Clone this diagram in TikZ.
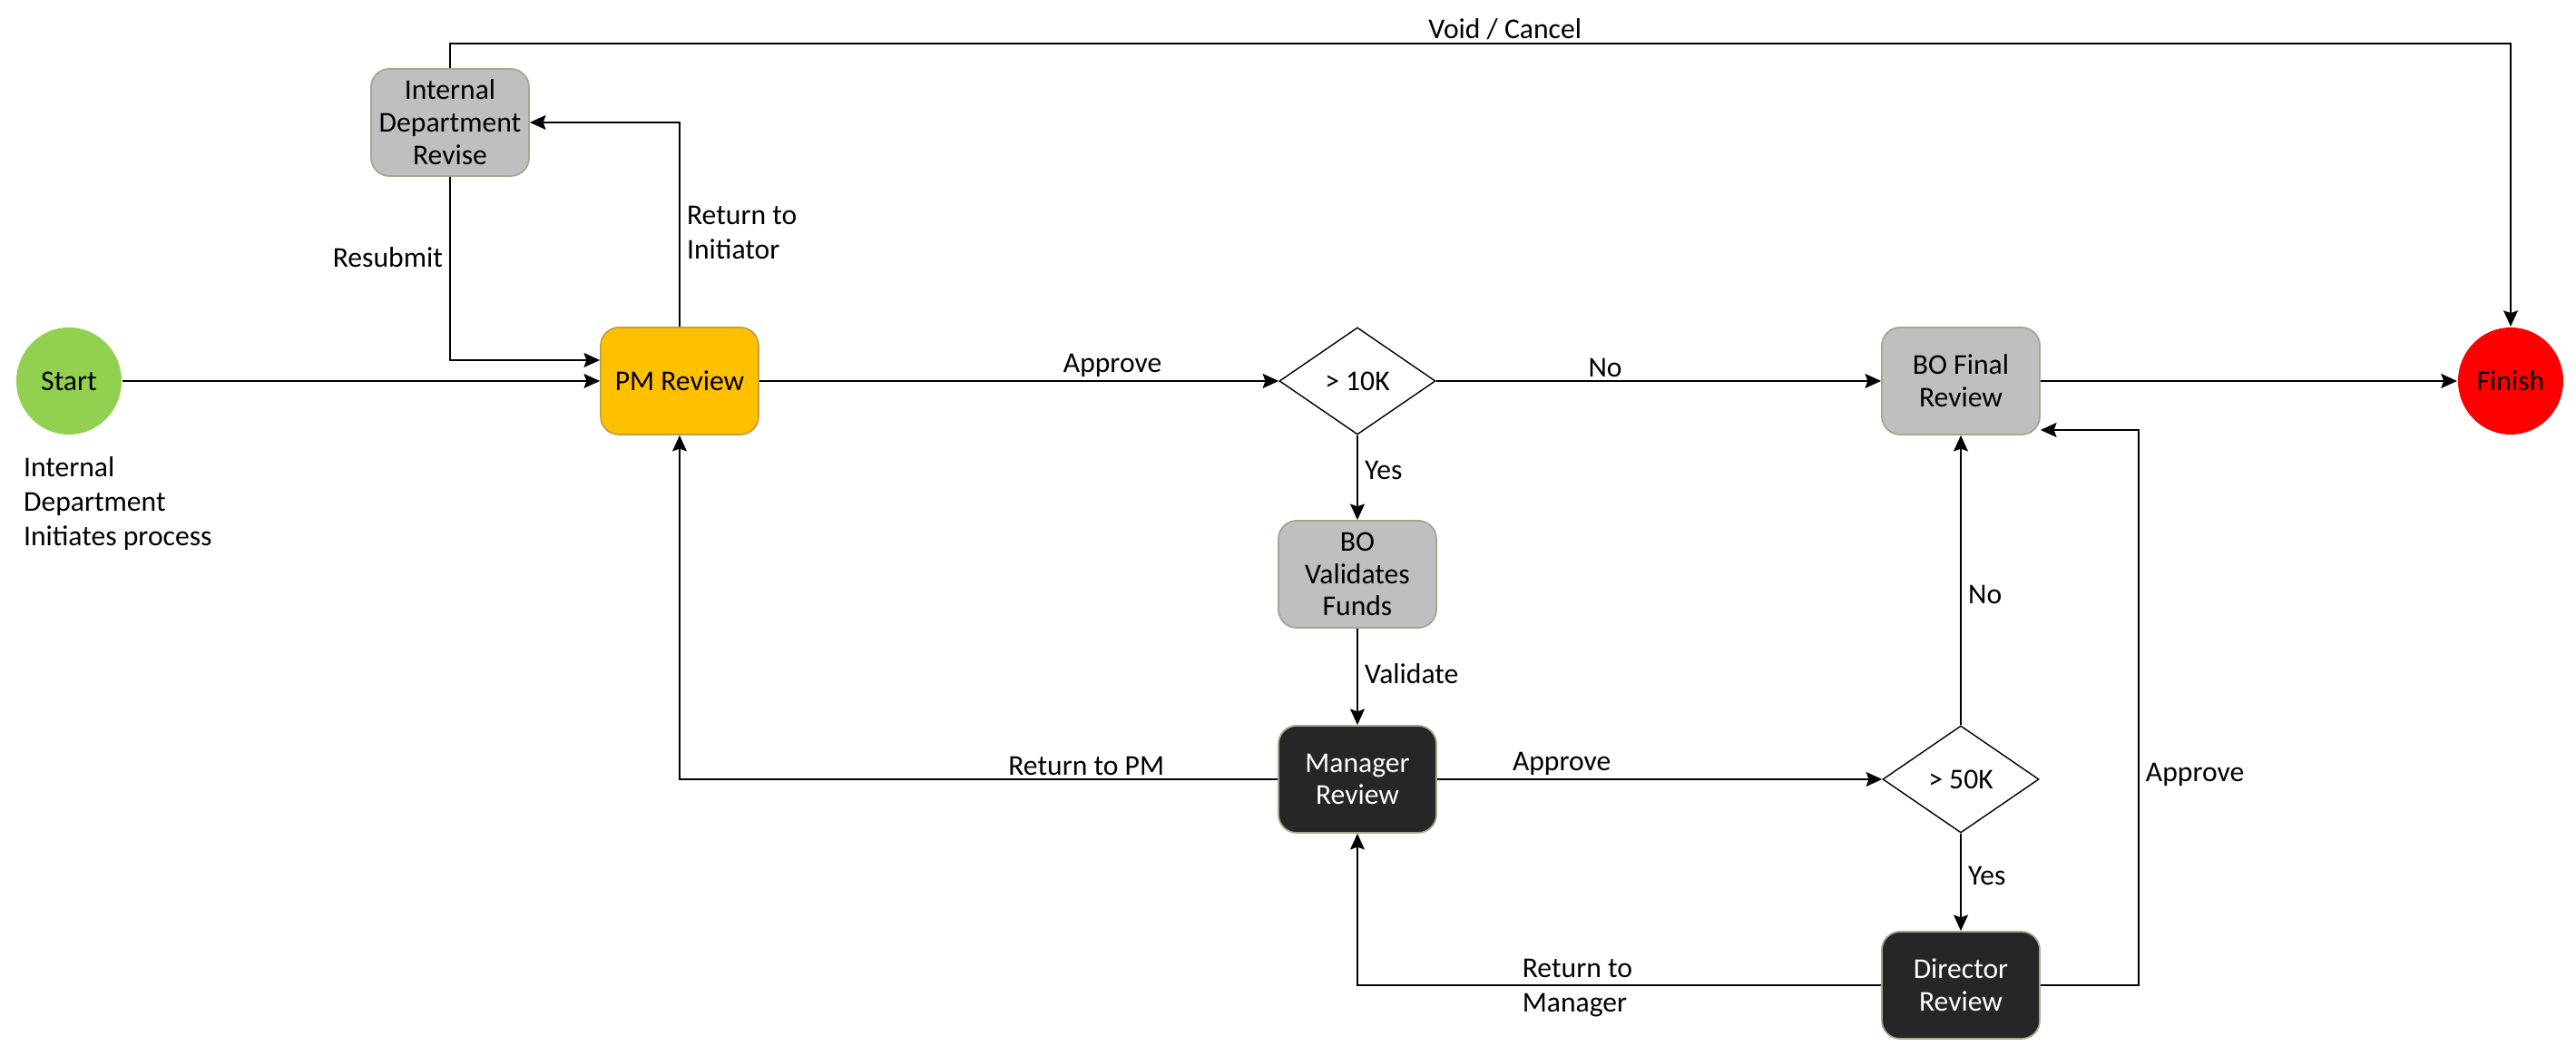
\documentclass[tikz,border=0pt]{standalone}
\usepackage{fontspec}
\setmainfont{Carlito}
\usetikzlibrary{shapes.geometric,arrows.meta}

\definecolor{startgreen}{HTML}{92D050}
\definecolor{finishred}{HTML}{FF0000}
\definecolor{pmorange}{HTML}{FFC000}
\definecolor{boxgray}{HTML}{BFBFBF}
\definecolor{boxdark}{HTML}{262626}
\definecolor{rimolive}{HTML}{A6A68C}
\definecolor{rimorange}{HTML}{BFA040}

\tikzset{
  txt/.style={font=\fontsize{9}{10.8}\selectfont},
  proc/.style={font=\fontsize{9}{10.2}\selectfont, rectangle, rounded corners=0.2cm,
    draw=rimolive, line width=0.5pt, minimum width=1.74cm, minimum height=1.18cm,
    align=center, inner sep=1pt},
  graybox/.style={proc, fill=boxgray},
  darkbox/.style={proc, fill=boxdark, text=white},
  decide/.style={txt, diamond, draw=black, line width=0.4pt, fill=white,
    minimum width=1.72cm, minimum height=1.18cm, inner sep=1pt},
  term/.style={txt, ellipse, inner sep=0pt, minimum width=1.16cm, minimum height=1.18cm},
  lbl/.style={txt, inner sep=2pt, align=left},
  >={Stealth[length=5pt,width=4.5pt,inset=0.8pt]}
}

\begin{document}
\begin{tikzpicture}[line width=0.6pt]

  \useasboundingbox (0,0) rectangle (28.39,11.53);

  \node [term, fill=startgreen] (start) at (0.76,7.33) {Start};
  \node [lbl, anchor=west, inner sep=0pt] (note) at (0.25,5.98) {Internal\\Department\\Initiates process};

  \node [proc, fill=pmorange, draw=rimorange] (pm) at (7.49,7.33) {PM Review};
  \node [graybox] (rev) at (4.96,10.18) {Internal\\Department\\Revise};

  \node [decide] (d10) at (14.96,7.33) {> 10K};
  \node [graybox] (bov) at (14.96,5.20) {BO\\Validates\\Funds};
  \node [darkbox] (mgr) at (14.96,2.94) {Manager\\Review};

  \node [graybox] (bofin) at (21.61,7.33) {BO Final\\Review};
  \node [decide] (d50) at (21.61,2.94) {> 50K};
  \node [darkbox] (dir) at (21.61,0.67) {Director\\Review};

  \node [term, fill=finishred] (fin) at (27.67,7.33) {Finish};

  \coordinate (pmin) at ([yshift=0.23cm]pm.west);
  \coordinate (finin) at ([yshift=-0.54cm]bofin.east);

  \draw [->] (start) -- (pm);
  \draw [->] (rev.south) |- node [lbl, pos=0.22, left] {Resubmit} (pmin);
  \draw [->] (pm.north) |- node [lbl, pos=0.23, right] {Return to\\Initiator} (rev.east);
  \draw [->] (pm) -- node [lbl, pos=0.68, above, inner sep=1pt] {Approve} (d10);
  \draw [->] (d10) -- node [lbl, pos=0.38, above, inner sep=1pt] {No} (bofin);
  \draw [->] (d10) -- node [lbl, pos=0.42, right] {Yes} (bov);
  \draw [->] (bov) -- node [lbl, pos=0.47, right] {Validate} (mgr);
  \draw [->] (mgr.west) -| node [lbl, pos=0.16, above, inner sep=1pt] {Return to PM} (pm.south);
  \draw [->] (mgr) -- node [lbl, pos=0.28, above, inner sep=1pt] {Approve} (d50);
  \draw [->] (d50) -- node [lbl, pos=0.45, right] {No} (bofin);
  \draw [->] (d50) -- node [lbl, pos=0.44, right] {Yes} (dir);
  \draw [->] (dir.west) -| node [lbl, pos=0.29, yshift=-1pt] {Return to\\Manager} (mgr.south);
  \draw [->] (dir.east) -- ++(1.08,0) |- node [lbl, pos=0.19, right] {Approve} (finin);
  \draw [->] (bofin) -- (fin);
  \draw [->] (rev.north) -- ++(0,0.27) -| node [lbl, pos=0.256, above, inner sep=1pt] {Void / Cancel} (fin.north);

\end{tikzpicture}
\end{document}
